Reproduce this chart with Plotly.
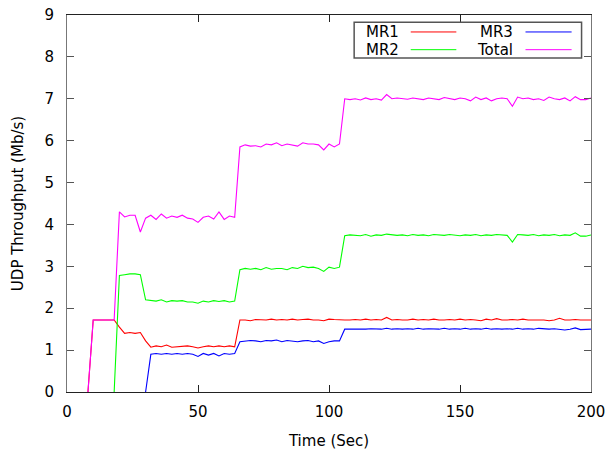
import plotly.graph_objects as go

# ---- data (sampled every 2 s, starting at t = 8 s) ----
time = list(range(8, 201, 2))

total = [
    0, 1.72, 1.72, 1.72, 1.72, 1.72, 4.30, 4.18, 4.22, 4.22,
    3.82, 4.15, 4.22, 4.12, 4.25, 4.15, 4.20, 4.17, 4.22, 4.15,
    4.13, 4.05, 4.17, 4.20, 4.13, 4.30, 4.12, 4.20, 4.17, 5.85,
    5.90, 5.87, 5.88, 5.85, 5.92, 5.90, 5.95, 5.88, 5.92, 5.90,
    5.87, 5.95, 5.92, 5.92, 5.90, 5.78, 5.92, 5.85, 5.92, 7.00,
    6.98, 7.00, 6.97, 7.02, 6.98, 7.00, 6.97, 7.10, 7.00, 7.02,
    7.00, 6.99, 7.02, 7.00, 6.98, 7.02, 7.00, 6.98, 7.03, 7.00,
    6.98, 7.02, 7.00, 6.95, 7.04, 6.98, 7.02, 6.95, 7.00, 7.02,
    7.00, 6.82, 7.04, 7.00, 7.02, 6.98, 7.00, 6.96, 7.04, 7.00,
    6.98, 7.02, 6.95, 7.05, 6.98, 6.98, 7.02,
]

mr1 = [
    0, 1.72, 1.72, 1.72, 1.72, 1.72, 1.55, 1.40, 1.42, 1.40,
    1.42, 1.22, 1.07, 1.10, 1.08, 1.12, 1.07, 1.08, 1.08, 1.10,
    1.08, 1.05, 1.08, 1.10, 1.08, 1.10, 1.08, 1.10, 1.08, 1.72,
    1.72, 1.70, 1.73, 1.72, 1.72, 1.74, 1.72, 1.73, 1.72, 1.74,
    1.72, 1.73, 1.74, 1.72, 1.72, 1.70, 1.74, 1.73, 1.72, 1.72,
    1.72, 1.73, 1.72, 1.74, 1.72, 1.73, 1.72, 1.78, 1.72, 1.73,
    1.72, 1.72, 1.74, 1.72, 1.73, 1.72, 1.74, 1.72, 1.72, 1.73,
    1.72, 1.74, 1.72, 1.73, 1.72, 1.70, 1.74, 1.72, 1.75, 1.72,
    1.72, 1.73, 1.72, 1.74, 1.72, 1.72, 1.73, 1.72, 1.70, 1.72,
    1.76, 1.72, 1.72, 1.73, 1.72, 1.72, 1.72,
]

mr2 = [
    None, None, None, None, None, 0, 2.78, 2.80, 2.82, 2.82,
    2.80, 2.20, 2.18, 2.17, 2.20, 2.15, 2.18, 2.17, 2.18, 2.15,
    2.15, 2.12, 2.17, 2.15, 2.18, 2.16, 2.18, 2.15, 2.17, 2.92,
    2.95, 2.93, 2.95, 2.92, 2.97, 2.93, 2.95, 2.95, 2.92, 2.97,
    2.95, 3.00, 2.97, 2.98, 2.95, 2.88, 2.98, 2.95, 2.98, 3.73,
    3.75, 3.74, 3.73, 3.76, 3.72, 3.75, 3.74, 3.77, 3.75, 3.74,
    3.75, 3.73, 3.76, 3.74, 3.75, 3.73, 3.76, 3.75, 3.74, 3.76,
    3.75, 3.73, 3.75, 3.74, 3.76, 3.73, 3.75, 3.74, 3.76, 3.75,
    3.74, 3.58, 3.76, 3.75, 3.74, 3.76, 3.73, 3.75, 3.74, 3.76,
    3.73, 3.75, 3.74, 3.80, 3.72, 3.72, 3.75,
]

mr3 = [
    None, None, None, None, None, None, None, None, None, None,
    None, 0, 0.90, 0.92, 0.90, 0.92, 0.90, 0.92, 0.90, 0.92,
    0.90, 0.85, 0.92, 0.88, 0.92, 0.86, 0.92, 0.90, 0.92, 1.20,
    1.22, 1.23, 1.22, 1.20, 1.23, 1.22, 1.24, 1.20, 1.23, 1.22,
    1.20, 1.22, 1.23, 1.20, 1.22, 1.16, 1.20, 1.22, 1.22, 1.50,
    1.50, 1.50, 1.49, 1.50, 1.51, 1.50, 1.50, 1.52, 1.50, 1.51,
    1.50, 1.51, 1.50, 1.52, 1.50, 1.51, 1.50, 1.50, 1.52, 1.50,
    1.51, 1.50, 1.52, 1.50, 1.51, 1.50, 1.52, 1.50, 1.51, 1.50,
    1.51, 1.50, 1.52, 1.50, 1.51, 1.50, 1.52, 1.51, 1.50, 1.51,
    1.50, 1.48, 1.50, 1.53, 1.49, 1.50, 1.50,
]

series_names = ["MR1", "MR2", "MR3", "Total"]
series_values = [mr1, mr2, mr3, total]
series_colors = ["#ff0000", "#00ff00", "#0000ff", "#ff00ff"]

x_ticks = [0, 50, 100, 150, 200]
y_ticks = list(range(0, 10))

FONT = "DejaVu Sans"
FS = 15

fig = go.Figure()
for name, vals, col in zip(series_names, series_values, series_colors):
    fig.add_trace(go.Scatter(x=time, y=vals, mode="lines", name=name,
                             line=dict(color=col, width=1.1), showlegend=False))

# gnuplot-style key (text right-aligned, sample line to its right)
key_layout = [  # (name, row, col)
    ("MR1", 0, 0), ("MR3", 0, 1), ("MR2", 1, 0), ("Total", 1, 1),
]
color_of = dict(zip(series_names, series_colors))
text_right = [0.638, 0.855]     # paper x of right edge of text, per column
line_span = [(0.656, 0.743), (0.875, 0.963)]
row_y = [0.955, 0.908]
for name, r, c in key_layout:
    fig.add_annotation(x=text_right[c], y=row_y[r], xref="paper", yref="paper",
                       text=name, showarrow=False, xanchor="right", yanchor="middle",
                       font=dict(family=FONT, size=FS, color="black"))
    fig.add_shape(type="line", xref="paper", yref="paper",
                  x0=line_span[c][0], x1=line_span[c][1], y0=row_y[r], y1=row_y[r],
                  line=dict(color=color_of[name], width=1))
fig.add_shape(type="rect", xref="paper", yref="paper",
              x0=0.548, x1=0.982, y0=0.886, y1=0.981,
              line=dict(color="#555555", width=1.5), fillcolor="rgba(0,0,0,0)")

axis_common = dict(showgrid=False, zeroline=False, showline=True, mirror="ticks",
                   ticks="inside", ticklen=7, tickwidth=1, automargin=False,
                   tickfont=dict(family=FONT, size=FS, color="black"))

fig.update_layout(
    width=608, height=450,
    margin=dict(l=67, r=17, t=15, b=58),
    paper_bgcolor="white", plot_bgcolor="white",
    font=dict(family=FONT, size=FS, color="black"),
    xaxis=dict(range=[0, 200], tickvals=x_ticks, linecolor="#222222", tickcolor="#222222",
               title=dict(text="Time (Sec)", font=dict(family=FONT, size=FS), standoff=15),
               ticklabelstandoff=6, **axis_common),
    yaxis=dict(range=[0, 9], tickvals=y_ticks, linecolor="#777777", tickcolor="#555555",
               title=dict(text="UDP Throughput (Mb/s)", font=dict(family=FONT, size=FS), standoff=17),
               ticklabelstandoff=9, **axis_common),
)

# remove the default page margin so the figure sits at the window's top-left
fig.write_html("out.html", config={"displayModeBar": False},
               post_script="document.body.style.margin='0';")
